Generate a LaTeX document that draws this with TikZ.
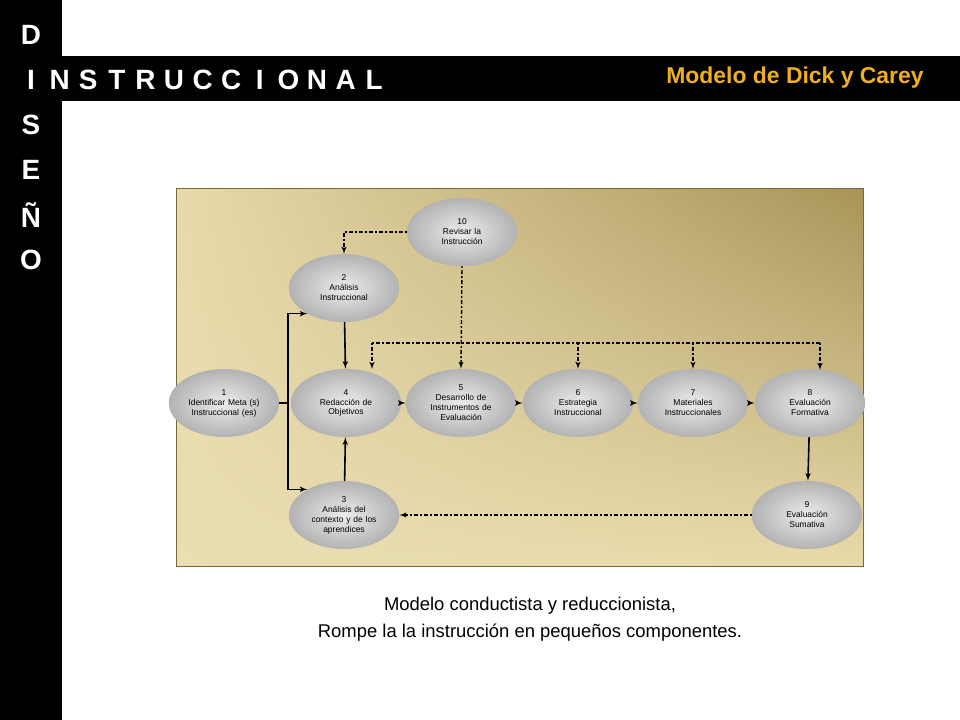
\documentclass[tikz,border=0pt]{standalone}
\usepackage{fontspec}
\setmainfont{Liberation Sans}
\usetikzlibrary{arrows,shapes,shadings}

\definecolor{goldlight}{RGB}{232,218,170}
\definecolor{golddark}{RGB}{168,148,88}
\definecolor{titleorange}{RGB}{240,176,30}

\tikzset{
  paso/.style={ellipse,minimum width=82bp,minimum height=68bp,inner sep=0pt,
    shade,inner color=gray!15,outer color=gray!60,
    font=\bfseries\fontsize{8.5}{10}\selectfont,align=center,text width=78bp},
  flecha/.style={-{latex'[scale=1.6]},line width=1.6bp},
  punteada/.style={-{latex'[scale=1.5]},line width=1.4bp,dash pattern=on 2bp off 2bp on 4bp off 2bp},
  letra/.style={text=white,font=\bfseries\fontsize{28}{28}\selectfont},
}

\begin{document}
\begin{tikzpicture}[x=1bp,y=-1bp]
\useasboundingbox (0,0) rectangle (960,720);

% Bands
\fill[black] (0,0) rectangle (62,720);
\fill[black] (62,56) rectangle (960,101);
\node[font=\bfseries\fontsize{23}{23}\selectfont,text=titleorange] (titulo) at (795,78) {Modelo de Dick y Carey};

% Vertical word
\foreach \l/\y in {D/35,I/80,S/125,E/170,Ñ/215,O/260}
  \node[letra] (v\y) at (31,\y) {\l};
\foreach \l [count=\i] in {N,S,T,R,U,C,C,I,O,N,A,L}
  \node[letra] (h\i) at (31+28.6*\i,80) {\l};

% Panel
\shade[upper left=goldlight,lower left=goldlight!90!white,upper right=golddark,lower right=goldlight]
  (176,188) rectangle (863,566);
\draw[golddark!70!black,line width=0.6bp] (176,188) rectangle (863,566);

% Nodes
\node[paso] (p10) at (462,232) {\mdseries 10\\Revisar la\\Instrucción};
\node[paso] (p2) at (344,288) {\mdseries 2\\Análisis\\Instruccional};
\node[paso] (p1) at (224,403) {\mdseries 1\\Identificar Meta (s)\\Instruccional (es)};
\node[paso] (p4) at (346,403) {\mdseries 4\\Redacción de\\Objetivos};
\node[paso] (p5) at (461,403) {\mdseries 5\\Desarrollo de\\Instrumentos de\\Evaluación};
\node[paso] (p6) at (578,403) {\mdseries 6\\Estrategia\\Instruccional};
\node[paso] (p7) at (693,403) {\mdseries 7\\Materiales\\Instruccionales};
\node[paso] (p8) at (810,403) {\mdseries 8\\Evaluación\\Formativa};
\node[paso] (p9) at (807,515) {\mdseries 9\\Evaluación\\Sumativa};
\node[paso] (p3) at (344,515) {\mdseries 3\\Análisis del\\contexto y de los\\aprendices};

% Solid flow
\coordinate (rama) at (288,403);
\draw[line width=1.6bp] (p1.east) -- (rama);
\draw[flecha] (rama) |- (p2.215);
\draw[flecha] (rama) |- (p3.145);
\draw[flecha] (p2) -- (p4);
\draw[flecha] (p3) -- (p4);
\draw[flecha] (p4) -- (p5);
\draw[flecha] (p5) -- (p6);
\draw[flecha] (p6) -- (p7);
\draw[flecha] (p7) -- (p8);
\draw[flecha] (p8) -- (p9);

% Revision feedback
\coordinate (esq) at (344,232);
\coordinate (izq) at (372,343);
\coordinate (der) at (820,343);
\draw[punteada] (p10.west) -- (esq) -- (p2.north);
\draw[punteada] (p10.south) -- (p5.north);
\draw[punteada,-] (izq) -- (der);
\draw[punteada] (izq) -- (372,369);
\draw[punteada] (578,343) -- (p6.north);
\draw[punteada] (693,343) -- (p7.north);
\draw[punteada] (der) -- (820,370);
\draw[punteada] (p9.west) -- (p3.east);

% Caption
\node[font=\fontsize{18.5}{27}\selectfont,align=center] (nota) at (530,619)
  {Modelo conductista y reduccionista,\\Rompe la la instrucción en pequeños componentes.};
\end{tikzpicture}
\end{document}
